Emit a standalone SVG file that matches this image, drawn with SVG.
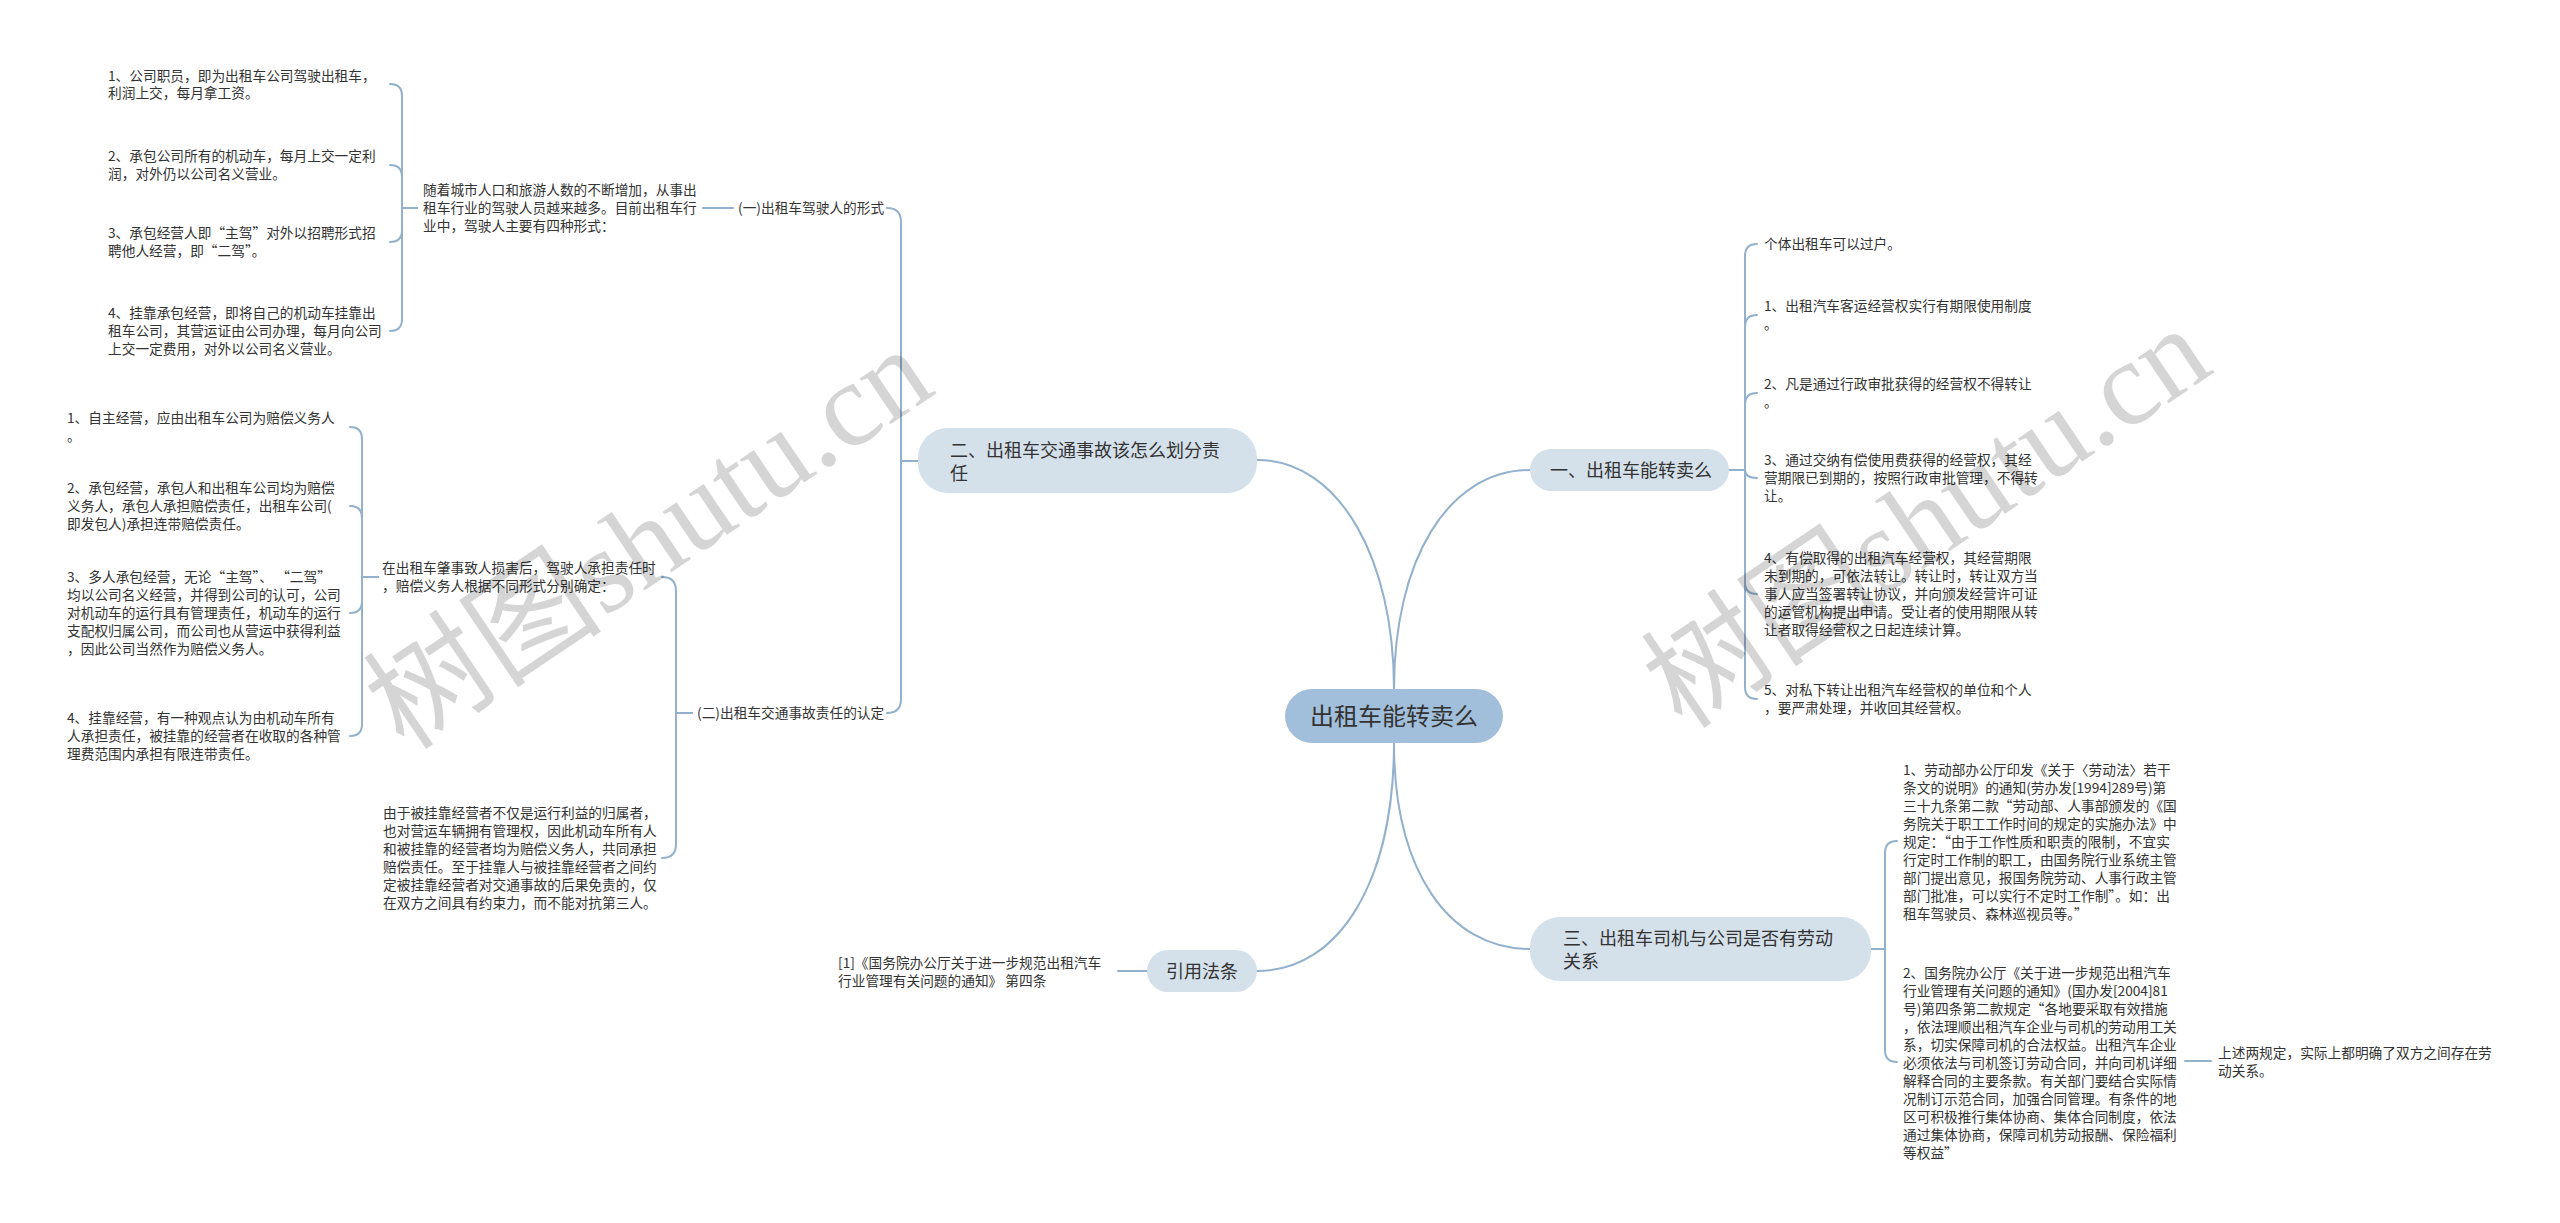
<svg xmlns="http://www.w3.org/2000/svg" width="2560" height="1223" viewBox="0 0 2560 1223">
<style>
.t{font-family:"Noto Sans CJK SC","Noto Sans",sans-serif;font-size:13.7px;fill:#333}
.n1{font-family:"Noto Sans CJK SC","Noto Sans",sans-serif;font-size:18px;fill:#333}
.n0{font-family:"Noto Sans CJK SC","Noto Sans",sans-serif;font-size:24px;fill:#333}
.b1{fill:#d4e0ea}
.b0{fill:#a1bfdb}
.c{fill:none;stroke:#93b1cc;stroke-width:2;stroke-linecap:round}
.wm{font-size:120px;fill:#000;opacity:0.16}
</style>
<rect width="2560" height="1223" fill="#fff"/>
<g id="connectors">
<path class="c" d="M1394 689 C1394 560 1340 460 1257 460"/>
<path class="c" d="M1394 689 C1394 560 1448 470 1530 470"/>
<path class="c" d="M1394 743 C1394 870 1448 949 1530 949"/>
<path class="c" d="M1394 743 C1394 880 1340 971 1257 971"/>
<path class="c" d="M918 461 H901 V222 Q901 208 887 208"/>
<path class="c" d="M918 461 H901 V699 Q901 713 887 713"/>
<path class="c" d="M733 208 H703"/>
<path class="c" d="M417 208 H402 V96 Q402 84 390 84"/>
<path class="c" d="M417 208 H402 V177 Q402 165 390 165"/>
<path class="c" d="M417 208 H402 V230 Q402 242 390 242"/>
<path class="c" d="M417 208 H402 V319 Q402 331 390 331"/>
<path class="c" d="M692 713 H676 V591 Q676 577 662 577"/>
<path class="c" d="M692 713 H676 V844 Q676 858 662 858"/>
<path class="c" d="M378 577 H362 V439 Q362 427 350 427"/>
<path class="c" d="M378 577 H362 V518 Q362 506 350 506"/>
<path class="c" d="M378 577 H362 V601 Q362 613 350 613"/>
<path class="c" d="M378 577 H362 V724 Q362 736 350 736"/>
<path class="c" d="M1729 470 H1745 V256 Q1745 244 1757 244"/>
<path class="c" d="M1729 470 H1745 V327 Q1745 315 1757 315"/>
<path class="c" d="M1729 470 H1745 V405 Q1745 393 1757 393"/>
<path class="c" d="M1729 470 H1745 Q1745 478 1757 478"/>
<path class="c" d="M1729 470 H1745 V582 Q1745 594 1757 594"/>
<path class="c" d="M1729 470 H1745 V687 Q1745 699 1757 699"/>
<path class="c" d="M1871 949 H1885 V853 Q1885 841 1897 841"/>
<path class="c" d="M1871 949 H1885 V1050 Q1885 1062 1897 1062"/>
<path class="c" d="M2185 1061 H2211"/>
<path class="c" d="M1147 971 H1118"/>
</g>
<g id="root">
<rect class="b0" x="1285" y="689" width="218" height="54" rx="27"/>
<text class="n0" x="1394" y="725" text-anchor="middle">出租车能转卖么</text>
</g>
<g id="n2">
<rect class="b1" x="918" y="428" width="339" height="65" rx="30"/>
<text class="n1"><tspan x="950" y="457">二、出租车交通事故该怎么划分责</tspan><tspan x="950" y="480">任</tspan></text>
</g>
<g id="n1">
<rect class="b1" x="1530" y="449" width="199" height="42" rx="21"/>
<text class="n1" x="1550" y="477">一、出租车能转卖么</text>
</g>
<g id="n3">
<rect class="b1" x="1530" y="917" width="341" height="64" rx="30"/>
<text class="n1"><tspan x="1563" y="945">三、出租车司机与公司是否有劳动</tspan><tspan x="1563" y="968">关系</tspan></text>
</g>
<g id="n4">
<rect class="b1" x="1147" y="950" width="110" height="42" rx="21"/>
<text class="n1" x="1166" y="978">引用法条</text>
</g>
<g id="sub1">
<text class="t" x="738" y="213">(一)出租车驾驶人的形式</text>
</g>
<g id="sub1a">
<text class="t"><tspan x="423" y="195">随着城市人口和旅游人数的不断增加，从事出</tspan><tspan x="423" y="213">租车行业的驾驶人员越来越多。目前出租车行</tspan><tspan x="423" y="231">业中，驾驶人主要有四种形式：</tspan></text>
</g>
<g id="f1">
<text class="t"><tspan x="108" y="81">1、公司职员，即为出租车公司驾驶出租车，</tspan><tspan x="108" y="98">利润上交，每月拿工资。</tspan></text>
</g>
<g id="f2">
<text class="t"><tspan x="108" y="161">2、承包公司所有的机动车，每月上交一定利</tspan><tspan x="108" y="179">润，对外仍以公司名义营业。</tspan></text>
</g>
<g id="f3">
<text class="t"><tspan x="108" y="238">3、承包经营人即“主驾”对外以招聘形式招</tspan><tspan x="108" y="256">聘他人经营，即“二驾”。</tspan></text>
</g>
<g id="f4">
<text class="t"><tspan x="108" y="318">4、挂靠承包经营，即将自己的机动车挂靠出</tspan><tspan x="108" y="336">租车公司，其营运证由公司办理，每月向公司</tspan><tspan x="108" y="354">上交一定费用，对外以公司名义营业。</tspan></text>
</g>
<g id="sub2">
<text class="t" x="697" y="718">(二)出租车交通事故责任的认定</text>
</g>
<g id="sub2a">
<text class="t"><tspan x="382" y="573">在出租车肇事致人损害后，驾驶人承担责任时</tspan><tspan x="382" y="591">，赔偿义务人根据不同形式分别确定：</tspan></text>
</g>
<g id="sub2b">
<text class="t"><tspan x="383" y="818">由于被挂靠经营者不仅是运行利益的归属者，</tspan><tspan x="383" y="836">也对营运车辆拥有管理权，因此机动车所有人</tspan><tspan x="383" y="854">和被挂靠的经营者均为赔偿义务人，共同承担</tspan><tspan x="383" y="872">赔偿责任。至于挂靠人与被挂靠经营者之间约</tspan><tspan x="383" y="890">定被挂靠经营者对交通事故的后果免责的，仅</tspan><tspan x="383" y="908">在双方之间具有约束力，而不能对抗第三人。</tspan></text>
</g>
<g id="r1">
<text class="t"><tspan x="67" y="423">1、自主经营，应由出租车公司为赔偿义务人</tspan><tspan x="67" y="441">。</tspan></text>
</g>
<g id="r2">
<text class="t"><tspan x="67" y="493">2、承包经营，承包人和出租车公司均为赔偿</tspan><tspan x="67" y="511">义务人，承包人承担赔偿责任，出租车公司(</tspan><tspan x="67" y="529">即发包人)承担连带赔偿责任。</tspan></text>
</g>
<g id="r3">
<text class="t"><tspan x="67" y="582">3、多人承包经营，无论“主驾”、 “二驾”</tspan><tspan x="67" y="600">均以公司名义经营，并得到公司的认可，公司</tspan><tspan x="67" y="618">对机动车的运行具有管理责任，机动车的运行</tspan><tspan x="67" y="636">支配权归属公司，而公司也从营运中获得利益</tspan><tspan x="67" y="654">，因此公司当然作为赔偿义务人。</tspan></text>
</g>
<g id="r4">
<text class="t"><tspan x="67" y="723">4、挂靠经营，有一种观点认为由机动车所有</tspan><tspan x="67" y="741">人承担责任，被挂靠的经营者在收取的各种管</tspan><tspan x="67" y="759">理费范围内承担有限连带责任。</tspan></text>
</g>
<g id="s0">
<text class="t" x="1764" y="249">个体出租车可以过户。</text>
</g>
<g id="s1">
<text class="t"><tspan x="1764" y="311">1、出租汽车客运经营权实行有期限使用制度</tspan><tspan x="1764" y="329">。</tspan></text>
</g>
<g id="s2">
<text class="t"><tspan x="1764" y="389">2、凡是通过行政审批获得的经营权不得转让</tspan><tspan x="1764" y="407">。</tspan></text>
</g>
<g id="s3">
<text class="t"><tspan x="1764" y="465">3、通过交纳有偿使用费获得的经营权，其经</tspan><tspan x="1764" y="483">营期限已到期的，按照行政审批管理，不得转</tspan><tspan x="1764" y="501">让。</tspan></text>
</g>
<g id="s4">
<text class="t"><tspan x="1764" y="563">4、有偿取得的出租汽车经营权，其经营期限</tspan><tspan x="1764" y="581">未到期的，可依法转让。转让时，转让双方当</tspan><tspan x="1764" y="599">事人应当签署转让协议，并向颁发经营许可证</tspan><tspan x="1764" y="617">的运管机构提出申请。受让者的使用期限从转</tspan><tspan x="1764" y="635">让者取得经营权之日起连续计算。</tspan></text>
</g>
<g id="s5">
<text class="t"><tspan x="1764" y="695">5、对私下转让出租汽车经营权的单位和个人</tspan><tspan x="1764" y="713">，要严肃处理，并收回其经营权。</tspan></text>
</g>
<g id="l1">
<text class="t"><tspan x="1903" y="775">1、劳动部办公厅印发《关于〈劳动法〉若干</tspan><tspan x="1903" y="793">条文的说明》的通知(劳办发[1994]289号)第</tspan><tspan x="1903" y="811">三十九条第二款“劳动部、人事部颁发的《国</tspan><tspan x="1903" y="829">务院关于职工工作时间的规定的实施办法》中</tspan><tspan x="1903" y="847">规定：“由于工作性质和职责的限制，不宜实</tspan><tspan x="1903" y="865">行定时工作制的职工，由国务院行业系统主管</tspan><tspan x="1903" y="883">部门提出意见，报国务院劳动、人事行政主管</tspan><tspan x="1903" y="901">部门批准，可以实行不定时工作制”。如：出</tspan><tspan x="1903" y="919">租车驾驶员、森林巡视员等。”</tspan></text>
</g>
<g id="l2">
<text class="t"><tspan x="1903" y="978">2、国务院办公厅《关于进一步规范出租汽车</tspan><tspan x="1903" y="996">行业管理有关问题的通知》(国办发[2004]81</tspan><tspan x="1903" y="1014">号)第四条第二款规定“各地要采取有效措施</tspan><tspan x="1903" y="1032">，依法理顺出租汽车企业与司机的劳动用工关</tspan><tspan x="1903" y="1050">系，切实保障司机的合法权益。出租汽车企业</tspan><tspan x="1903" y="1068">必须依法与司机签订劳动合同，并向司机详细</tspan><tspan x="1903" y="1086">解释合同的主要条款。有关部门要结合实际情</tspan><tspan x="1903" y="1104">况制订示范合同，加强合同管理。有条件的地</tspan><tspan x="1903" y="1122">区可积极推行集体协商、集体合同制度，依法</tspan><tspan x="1903" y="1140">通过集体协商，保障司机劳动报酬、保险福利</tspan><tspan x="1903" y="1158">等权益”</tspan></text>
</g>
<g id="l2a">
<text class="t"><tspan x="2218" y="1058">上述两规定，实际上都明确了双方之间存在劳</tspan><tspan x="2218" y="1076">动关系。</tspan></text>
</g>
<g id="ref1">
<text class="t"><tspan x="838" y="968">[1]《国务院办公厅关于进一步规范出租汽车</tspan><tspan x="838" y="986">行业管理有关问题的通知》 第四条</tspan></text>
</g>
<g id="watermark">
<text class="wm" transform="translate(649 539) rotate(-34)" x="0" y="40" text-anchor="middle"><tspan font-family="Noto Sans CJK SC,sans-serif">树图</tspan><tspan font-family="Liberation Serif,serif">shutu.cn</tspan></text>
<text class="wm" transform="translate(1927 518) rotate(-34)" x="0" y="40" text-anchor="middle"><tspan font-family="Noto Sans CJK SC,sans-serif">树图</tspan><tspan font-family="Liberation Serif,serif">shutu.cn</tspan></text>
</g>
</svg>
